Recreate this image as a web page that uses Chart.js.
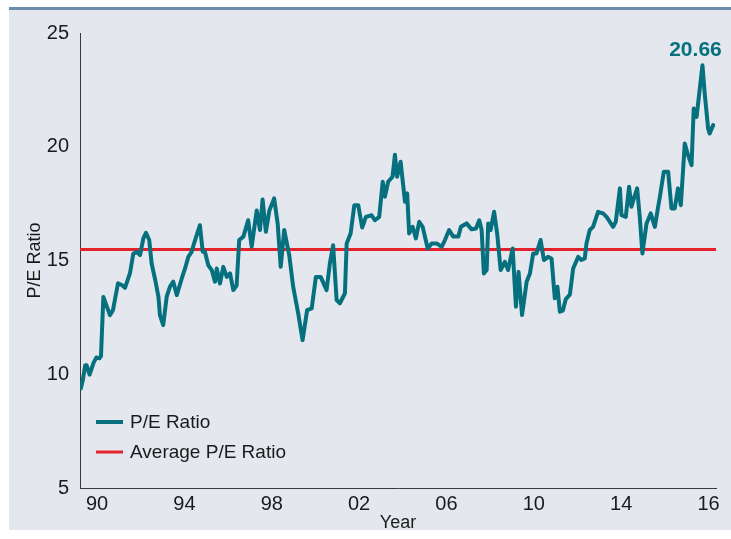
<!DOCTYPE html>
<html>
<head>
<meta charset="utf-8">
<script src="https://cdn.jsdelivr.net/npm/chart.js@4.4.1/dist/chart.umd.min.js"></script>
<style>
  html, body { margin: 0; padding: 0; background: #ffffff; }
  #wrap { position: relative; width: 731px; height: 539px; }
</style>
</head>
<body>
<div id="wrap"><canvas id="c" width="731" height="539"></canvas></div>
<script>
// ---- Data ----
const years = [1989.26,1989.35,1989.46,1989.52,1989.66,1989.84,1989.97,1990.11,1990.18,1990.29,1990.59,1990.73,1990.96,1991.13,1991.28,1991.51,1991.66,1991.82,1991.97,1992.12,1992.24,1992.39,1992.50,1992.65,1992.81,1992.88,1993.03,1993.19,1993.34,1993.49,1993.65,1993.88,1994.03,1994.18,1994.33,1994.49,1994.71,1994.84,1994.94,1995.09,1995.25,1995.40,1995.48,1995.63,1995.78,1995.94,1996.09,1996.24,1996.39,1996.51,1996.70,1996.92,1997.08,1997.31,1997.46,1997.58,1997.73,1997.89,1998.11,1998.27,1998.41,1998.57,1998.80,1998.98,1999.21,1999.41,1999.62,1999.83,2000.02,2000.24,2000.51,2000.66,2000.81,2000.97,2001.12,2001.35,2001.43,2001.61,2001.78,2001.96,2002.14,2002.31,2002.57,2002.72,2002.92,2003.08,2003.18,2003.33,2003.53,2003.64,2003.74,2003.90,2004.10,2004.20,2004.29,2004.45,2004.60,2004.75,2004.91,2005.14,2005.32,2005.55,2005.78,2005.93,2006.12,2006.31,2006.54,2006.66,2006.92,2007.15,2007.35,2007.50,2007.61,2007.71,2007.84,2007.91,2008.02,2008.18,2008.32,2008.48,2008.67,2008.82,2009.03,2009.18,2009.30,2009.46,2009.67,2009.82,2009.97,2010.12,2010.31,2010.46,2010.65,2010.81,2010.96,2011.08,2011.19,2011.33,2011.46,2011.65,2011.80,2012.03,2012.18,2012.33,2012.41,2012.56,2012.71,2012.94,2013.17,2013.33,2013.63,2013.75,2013.94,2014.01,2014.21,2014.36,2014.47,2014.58,2014.73,2014.85,2014.97,2015.16,2015.35,2015.54,2015.69,2015.77,2015.95,2016.15,2016.30,2016.45,2016.60,2016.73,2016.91,2017.06,2017.22,2017.32,2017.45,2017.72,2017.83,2017.98,2018.05,2018.21];
const peRatio = [9.38,9.75,10.4,10.4,9.98,10.5,10.74,10.7,10.8,13.4,12.6,12.82,14.0,13.92,13.8,14.45,15.3,15.38,15.24,15.97,16.22,15.9,14.87,14.21,13.41,12.6,12.16,13.41,13.85,14.07,13.48,14.21,14.65,15.16,15.38,15.9,16.55,15.38,15.38,14.8,14.58,14.07,14.65,13.99,14.72,14.28,14.43,13.7,13.9,15.9,16.05,16.77,15.6,17.2,16.34,17.68,16.26,17.2,17.73,16.63,14.72,16.34,15.24,13.85,12.68,11.5,12.82,12.9,14.28,14.28,13.7,14.87,15.67,13.26,13.12,13.56,15.75,16.19,17.43,17.43,16.45,16.92,16.99,16.77,16.92,18.46,17.8,18.46,18.68,19.65,18.68,19.34,17.58,17.95,16.19,16.48,15.97,16.7,16.48,15.53,15.75,15.75,15.6,15.9,16.34,16.05,16.05,16.48,16.63,16.37,16.41,16.77,16.34,14.43,14.58,16.63,16.34,17.14,16.19,14.58,14.94,14.58,15.53,12.97,14.5,12.6,14.07,14.43,15.31,15.31,15.9,15.02,15.16,15.09,13.34,13.85,12.75,12.8,13.3,13.5,14.65,15.16,15.02,15.09,15.75,16.34,16.48,17.14,17.07,16.92,16.48,16.7,18.17,16.99,16.92,18.24,17.36,17.73,18.17,16.92,15.31,16.63,17.07,16.48,17.36,17.8,18.9,18.9,17.29,17.29,18.17,17.43,20.14,19.63,19.19,21.68,21.31,23.58,22.27,20.8,20.58,20.95];
const averagePE = 15.48;
const xTickValues = [1990,1994,1998,2002,2006,2010,2014,2018];
const xTickLabels = ['90','94','98','02','06','10','14','16'];
const yTickValues = [5,10,15,20,25];
const calloutText = '20.66';
const seriesNames = ['P/E Ratio','Average P/E Ratio'];

const TEAL = '#06707f';
const RED = '#e3222c';
const FONT = '"Liberation Sans", Arial, sans-serif';
const X_MIN = 1989.22, X_MAX = 2018.34;

const pePoints = years.map((y, i) => ({x: y, y: peRatio[i]}));
const avgPoints = [{x: X_MIN, y: averagePE}, {x: X_MAX, y: averagePE}];

const panelPlugin = {
  id: 'panel',
  beforeDraw(chart) {
    const ctx = chart.ctx;
    ctx.save();
    ctx.fillStyle = '#ffffff';
    ctx.fillRect(0, 0, chart.width, chart.height);
    ctx.fillStyle = '#e4e8ee';
    ctx.fillRect(9, 8, chart.width - 9, 522);
    ctx.fillStyle = '#6d8cab';
    ctx.fillRect(9, 7, chart.width - 9, 3);
    ctx.restore();
  }
};

const overlayPlugin = {
  id: 'overlay',
  afterDatasetsDraw(chart) {
    const ctx = chart.ctx;
    const xs = chart.scales.x, ys = chart.scales.y;
    // callout above the peak
    let pi = 0;
    peRatio.forEach((v, i) => { if (v > peRatio[pi]) pi = i; });
    const px = xs.getPixelForValue(years[pi]);
    const py = ys.getPixelForValue(peRatio[pi]);
    ctx.save();
    ctx.fillStyle = TEAL;
    ctx.font = 'bold 21px ' + FONT;
    ctx.textAlign = 'center';
    ctx.textBaseline = 'middle';
    ctx.fillText(calloutText, px - 7, py - 15);
    // legend inside plot
    const items = [
      {label: seriesNames[0], color: TEAL, w: 4},
      {label: seriesNames[1], color: RED, w: 3}
    ];
    const lx = chart.chartArea.left + 16;
    let ly = ys.getPixelForValue(7.9);
    ctx.font = '19px ' + FONT;
    ctx.textAlign = 'left';
    items.forEach(it => {
      ctx.strokeStyle = it.color;
      ctx.lineWidth = it.w;
      ctx.beginPath();
      ctx.moveTo(lx, ly);
      ctx.lineTo(lx + 27, ly);
      ctx.stroke();
      ctx.fillStyle = '#1a1a1a';
      ctx.fillText(it.label, lx + 34, ly + 1);
      ly += 30;
    });
    ctx.restore();
  }
};

new Chart(document.getElementById('c'), {
  type: 'line',
  data: {
    datasets: [
      {label: seriesNames[0], data: pePoints, borderColor: TEAL, borderWidth: 4, pointRadius: 0, tension: 0, borderJoinStyle: 'round', borderCapStyle: 'round', order: 1},
      {label: seriesNames[1], data: avgPoints, borderColor: RED, borderWidth: 3, pointRadius: 0, tension: 0, order: 2}
    ]
  },
  options: {
    responsive: false,
    animation: false,
    devicePixelRatio: 1,
    layout: {padding: {left: 20, right: 15, top: 33, bottom: 0}},
    plugins: {legend: {display: false}, tooltip: {enabled: false}},
    scales: {
      x: {
        type: 'linear', min: X_MIN, max: X_MAX,
        afterBuildTicks: s => { s.ticks = xTickValues.map(v => ({value: v})); },
        afterFit: s => { s.height = 51; },
        grid: {display: false, drawTicks: false},
        border: {display: true, color: '#3a3a3a', width: 1},
        ticks: {
          autoSkip: false, maxRotation: 0, padding: 4, color: '#1a1a1a',
          font: {family: FONT, size: 20},
          callback: v => xTickLabels[xTickValues.indexOf(v)] ?? ''
        },
        title: {display: true, text: 'Year', color: '#1a1a1a', font: {family: FONT, size: 18}, padding: {top: 5, bottom: 5}}
      },
      y: {
        min: 5, max: 25,
        afterBuildTicks: s => { s.ticks = yTickValues.map(v => ({value: v})); },
        afterFit: s => { s.width = 60; },
        grid: {display: false, drawTicks: false},
        border: {display: true, color: '#3a3a3a', width: 1},
        ticks: {padding: 11, color: '#1a1a1a', font: {family: FONT, size: 20}},
        title: {display: true, text: 'P/E Ratio', color: '#1a1a1a', font: {family: FONT, size: 18}, padding: {top: 4, bottom: 4}}
      }
    }
  },
  plugins: [panelPlugin, overlayPlugin]
});
</script>
</body>
</html>
